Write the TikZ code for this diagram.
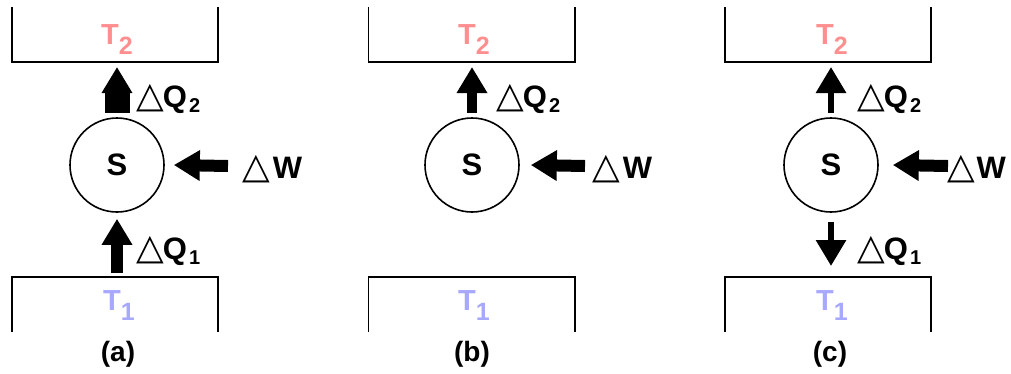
\documentclass[tikz,border=0pt]{standalone}
\usepackage{fontspec}
\setmainfont{Liberation Sans}
\newfontfamily\symf{DejaVu Sans}
\usetikzlibrary{arrows.meta}
\definecolor{hotc}{HTML}{FF8F8F}
\definecolor{coldc}{HTML}{A8A8FF}
\newcommand\dlt{{\symf\mdseries\fontsize{36}{36}\selectfont △}\hspace{-1pt}}
\newcommand\qlab[2]{\dlt#1\hspace{2pt}\raisebox{-5pt}{\fontsize{20}{20}\selectfont #2}}
\newcommand\tlab[2]{#1\raisebox{-10pt}{\fontsize{25}{25}\selectfont #2}}
\tikzset{
  resv/.style={minimum width=206pt, minimum height=55pt, inner sep=0pt},
  boxline/.style={line width=1.6pt},
  sys/.style={circle, draw, line width=1.6pt, minimum size=94pt, inner sep=0pt,
    font=\fontsize{31}{31}\selectfont\bfseries},
  hot/.style={text=hotc, inner sep=0pt, font=\fontsize{29}{29}\selectfont\bfseries},
  cold/.style={text=coldc, inner sep=0pt, font=\fontsize{29}{29}\selectfont\bfseries},
  lbl/.style={anchor=base west, inner sep=0pt, font=\fontsize{31}{31}\selectfont\bfseries},
  captxt/.style={inner sep=0pt, font=\fontsize{28}{28}\selectfont\bfseries},
  blk/.style={line width=#1, -{Triangle[width=29pt,length=26pt]}},
}
\begin{document}
\begin{tikzpicture}[x=1pt,y=-1pt]
\useasboundingbox (0,0) rectangle (1011,373);
% ---------- panel (a)
\node[resv] (Ha) at (115,34.5) {};
\node[resv] (Ca) at (115,304.5) {};
\draw[boxline] (Ha.north west) |- (Ha.south east) -- (Ha.north east);
\draw[boxline] (Ca.south west) |- (Ca.north east) -- (Ca.south east);
\node[hot] (T2a) at (117,40) {\tlab{T}{2}};
\node[cold] (T1a) at (119,306) {\tlab{T}{1}};
\node[sys] (Sa) at (117,165) {S};
\coordinate (a2t) at (117,67);
\coordinate (a1s) at (117,273);
\coordinate (aws) at (228,166);
\draw[blk=25pt] ([yshift=4pt]Sa.north) -- (a2t);
\draw[blk=12pt] (a1s) -- ([yshift=-6pt]Sa.south);
\draw[blk=12pt] (aws) -- ([xshift=9pt]Sa.east);
\node[lbl] (qa2) at (136,107) {\qlab{Q}{2}};
\node[lbl] (qa1) at (136,259) {\qlab{Q}{1}};
\node[lbl] (wa) at (242,178) {\dlt\hspace{4pt}W};
\node[captxt] (capa) at (118,354) {(a)};
% ---------- panel (b)
\node[resv] (Hb) at (471.5,34.5) {};
\node[resv] (Cb) at (471.5,304.5) {};
\draw[boxline] (Hb.north west) |- (Hb.south east) -- (Hb.north east);
\draw[boxline] (Cb.south west) |- (Cb.north east) -- (Cb.south east);
\node[hot] (T2b) at (474,40) {\tlab{T}{2}};
\node[cold] (T1b) at (474,306) {\tlab{T}{1}};
\node[sys] (Sb) at (472,165) {S};
\coordinate (b2t) at (472,67);
\coordinate (bws) at (585,166);
\draw[blk=10pt] ([yshift=4pt]Sb.north) -- (b2t);
\draw[blk=12pt] (bws) -- ([xshift=11pt]Sb.east);
\node[lbl] (qb2) at (496,107) {\qlab{Q}{2}};
\node[lbl] (wb) at (592,178) {\dlt\hspace{4pt}W};
\node[captxt] (capb) at (472,354) {(b)};
% ---------- panel (c)
\node[resv] (Hc) at (828,34.5) {};
\node[resv] (Cc) at (828,304.5) {};
\draw[boxline] (Hc.north west) |- (Hc.south east) -- (Hc.north east);
\draw[boxline] (Cc.south west) |- (Cc.north east) -- (Cc.south east);
\node[hot] (T2c) at (832,40) {\tlab{T}{2}};
\node[cold] (T1c) at (832,306) {\tlab{T}{1}};
\node[sys] (Sc) at (831,165) {S};
\coordinate (c2t) at (831,67);
\coordinate (c1t) at (831,266);
\coordinate (cws) at (948,166);
\draw[blk=6pt] ([yshift=4pt]Sc.north) -- (c2t);
\draw[blk=6pt] ([yshift=-9pt]Sc.south) -- (c1t);
\draw[blk=12pt] (cws) -- ([xshift=14pt]Sc.east);
\node[lbl] (qc2) at (857,107) {\qlab{Q}{2}};
\node[lbl] (qc1) at (857,259) {\qlab{Q}{1}};
\node[lbl, anchor=base east] (wc) at (1006,178) {\dlt\hspace{2pt}W};
\node[captxt] (capc) at (830,354) {(c)};
\end{tikzpicture}
\end{document}
